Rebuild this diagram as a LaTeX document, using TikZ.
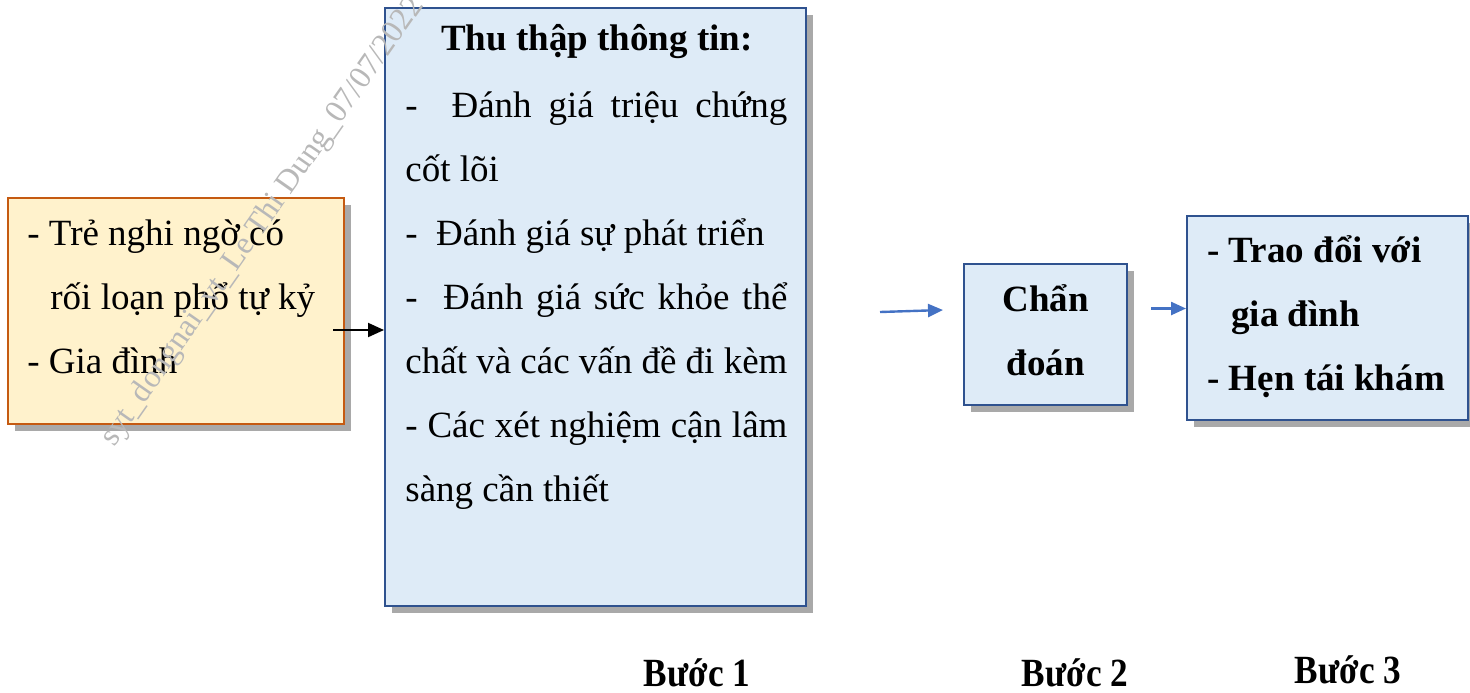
\documentclass[tikz,border=0pt]{standalone}
\usepackage{fontspec}
\setmainfont{Liberation Serif}
\usetikzlibrary{arrows.meta}
\usetikzlibrary{shadows}
\usepackage{xcolor}

\definecolor{boxyellow}{RGB}{255,242,204}
\definecolor{lineorange}{RGB}{197,90,17}
\definecolor{boxblue}{RGB}{222,235,247}
\definecolor{lineblue}{RGB}{47,82,143}
\definecolor{arrowblue}{RGB}{68,114,196}

\tikzset{
  boxshadow/.style={drop shadow={shadow xshift=3.5pt, shadow yshift=-3.5pt, fill=black!45, opacity=.75}},
  yellowbox/.style={draw=lineorange, fill=boxyellow, line width=1pt, boxshadow},
  bluebox/.style={draw=lineblue, fill=boxblue, line width=1pt, boxshadow},
  boxtext/.style={inner sep=0pt, align=left},
  steplabel/.style={font=\fontsize{20}{20}\selectfont\bfseries, xscale=.88, inner sep=0pt},
}

\begin{document}
\begin{tikzpicture}[x=0.5pt, y=-0.5pt,
  every node/.style={font=\fontsize{18.5}{32}\selectfont}]
\useasboundingbox (0,0) rectangle (1470,692);

% the four boxes
\node[yellowbox, minimum width=168pt, minimum height=113pt] (tre) at (176,311) {};
\node[bluebox, minimum width=210.5pt, minimum height=299pt] (thu) at (595.5,307) {};
\node[bluebox, minimum width=81.5pt, minimum height=70.5pt] (chan) at (1045.5,334.5) {};
\node[bluebox, minimum width=140.5pt, minimum height=102pt] (hen) at (1327.5,318) {};

% texts in the boxes
\node[boxtext, anchor=west] (tretext) at (27,297)
  {- Trẻ nghi ngờ có\\\hspace*{11.5pt}rối loạn phổ tự kỷ\\- Gia đình};
\node[font=\fontsize{18.5}{32}\selectfont\bfseries] (thutitle) at (597,42) {Thu thập thông tin:};
\node[boxtext, anchor=north west] (thutext) at (405,91)
  {\makebox[191pt][s]{-\ \ Đánh giá triệu chứng}\\
   cốt lõi\\
   -\ \ Đánh giá sự phát triển\\
   \makebox[191pt][s]{-\ \ Đánh giá sức khỏe thể}\\
   \makebox[191pt][s]{chất và các vấn đề đi kèm}\\
   \makebox[191pt][s]{- Các xét nghiệm cận lâm}\\
   sàng cần thiết};
\node[boxtext, align=center, font=\fontsize{18.5}{32}\selectfont\bfseries] (chantext) at (1045.5,330)
  {Chẩn\\đoán};
\node[boxtext, anchor=west, font=\fontsize{18.5}{32}\selectfont\bfseries] (hentext) at (1207,317)
  {- Trao đổi với\\\hspace*{12pt}gia đình\\- Hẹn tái khám};

% arrows
\coordinate (a1) at ([shift={(-12,19)}]tre.east);
\draw[-{Triangle[length=8pt,width=7pt]}, line width=1pt] (a1) -- (a1 -| thu.west);
\coordinate (b1) at (880,312);
\coordinate (b2) at (943,310);
\draw[-{Triangle[length=7.5pt,width=6.5pt]}, arrowblue, line width=1.2pt] (b1) -- (b2);
\coordinate (c1) at ([shift={(23,-26)}]chan.east);
\draw[-{Triangle[length=7.5pt,width=6.5pt]}, arrowblue, line width=1.2pt] (c1) -- (c1 -| hen.west);

% step labels
\node[steplabel] (buoc1) at (697,673) {Bước 1};
\node[steplabel] (buoc2) at (1075,673) {Bước 2};
\node[steplabel] (buoc3) at (1348,670) {Bước 3};

% watermark
\node[rotate=55, text=black!28, font=\fontsize{16}{16}\selectfont] (mark) at (263,222)
  {syt\_dongnai\_vt\_Le Thi Dung\_07/07/2022};
\end{tikzpicture}
\end{document}
